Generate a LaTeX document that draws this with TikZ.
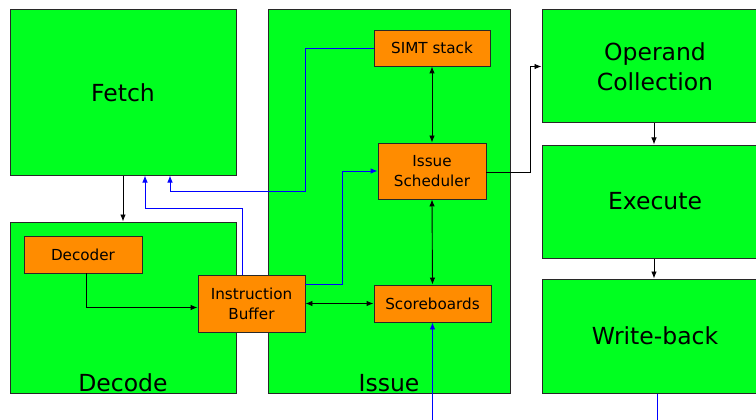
\documentclass[tikz,border=0pt]{standalone}
\usepackage{fontspec}
\setmainfont{DejaVu Sans}
\usepackage{tikz}
\usetikzlibrary{positioning,arrows.meta}
\definecolor{stagegreen}{RGB}{0,255,32}
\definecolor{unitorange}{RGB}{255,140,0}
\definecolor{edgegray}{RGB}{40,40,40}

\begin{document}
\begin{tikzpicture}[x=1pt, y=-1pt, >={Latex[length=7pt,width=5.5pt]},
  stage/.style={draw=edgegray, line width=1pt, fill=stagegreen, inner sep=0pt, align=center,
    font=\fontsize{23.5}{30}\selectfont},
  unit/.style={draw=edgegray, line width=0.9pt, fill=unitorange, inner sep=0pt, align=center,
    font=\fontsize{15.2}{20}\selectfont},
  caption/.style={anchor=south, inner sep=1pt, font=\fontsize{23.5}{30}\selectfont},
  link/.style={line width=0.9pt, black},
  blink/.style={line width=0.9pt, blue}]
\useasboundingbox (0,0) rectangle (756,420);
\clip (0,0) rectangle (756,420);
% pipeline stages
\node[stage, minimum width=226pt, minimum height=165pt] (fetch) at (123,92.5) {Fetch};
\node[stage, minimum width=226pt, minimum height=171pt] (decode) at (123,307.5) {};
\node[caption] at (decode.south) {Decode};
\node[stage, minimum width=242pt, minimum height=383pt] (issue) at (389,201.5) {};
\node[caption] at (issue.south) {Issue};
\node[stage, minimum width=226pt, minimum height=113pt] (operand) at (655,66.5) {Operand\\Collection};
\node[stage, minimum width=226pt, minimum height=113pt] (execute) at (655,201.5) {Execute};
\node[stage, minimum width=226pt, minimum height=114pt] (writeback) at (655,336) {Write-back};
% units inside the stages
\node[unit, minimum width=118pt, minimum height=37pt] (decoder) at (83,254.5) {Decoder};
\node[unit, minimum width=107pt, minimum height=57pt] (ibuf) at (251.5,303.5) {Instruction\\Buffer};
\node[unit, minimum width=116pt, minimum height=36pt] (simt) at (432,48) {SIMT stack};
\node[unit, minimum width=108pt, minimum height=56pt] (sched) at (432,171) {Issue\\Scheduler};
\node[unit, minimum width=117pt, minimum height=37pt] (score) at (432.5,303.5) {Scoreboards};
\coordinate (scorein) at (432.5,430);
\coordinate (wbout) at (657,430);
% black connectors
\draw[link,->] (fetch.south) -- (decode.north);
\draw[link,->] ([xshift=3pt]decoder.south) |- ([yshift=-4pt]ibuf.west);
\draw[link,<->] (ibuf.east) -- (score.west);
\draw[link,<->] (simt.south) -- (sched.north);
\draw[link,<->] (sched.south) -- (score.north);
\draw[link,->] ([yshift=-1pt]sched.east) -- ++(44,0) |- (operand.west);
\draw[link,->] ([xshift=-1pt]operand.south) -- ([xshift=-1pt]execute.north);
\draw[link,->] ([xshift=-1pt]execute.south) -- ([xshift=-1pt]writeback.north);
% blue connectors
\draw[blink,->] (scorein) -- (score.south);
\draw[blink] ([xshift=2pt]writeback.south) -- (wbout);
\draw[blink,->] ([xshift=-9pt]ibuf.north) -- ++(0,-66) -| ([xshift=22pt]fetch.south);
\draw[blink,->] (simt.west) -- ++(-68,0) -- ++(0,143) -| ([xshift=47pt]fetch.south);
\draw[blink,->] ([yshift=19.5pt]ibuf.east) -- ++(37,0) |- (sched.west);
\end{tikzpicture}
\end{document}
